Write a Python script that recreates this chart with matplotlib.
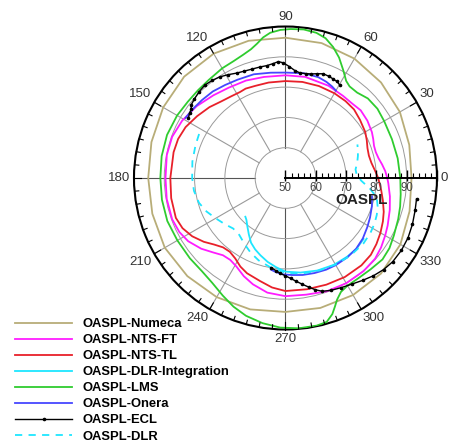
import numpy as np
import matplotlib
matplotlib.use("Agg")
import matplotlib.pyplot as plt
from matplotlib.markers import TICKUP, TICKDOWN

plt.rcParams["font.family"] = ["Liberation Sans", "DejaVu Sans"]

# ---- directivity data: angle (deg) and OASPL (dB) ----
numeca_deg = [0, 15, 30, 45, 60, 75, 90, 105, 120, 135, 150, 165, 180, 195, 210,
              225, 240, 255, 270, 285, 300, 315, 330, 345, 360]
numeca_db = [91.6, 92.3, 93.6, 94.6, 95.5, 96.1, 96.3, 96.9, 97.4, 97.3, 96.6, 95.8,
             95.3, 95.5, 96.0, 95.8, 95.4, 94.9, 94.2, 94.4, 94.6, 94.6, 93.8, 92.4, 91.6]

nts_ft_deg = [0, 4, 8, 12, 16, 20, 24, 28, 35, 42, 48, 55, 65, 79, 90, 102, 112, 122,
              131, 141, 151, 160, 169, 180, 190, 200, 207, 213, 220, 226, 231, 236, 241,
              247, 253, 261, 270, 280, 290, 300, 310, 318, 324, 330, 335, 343, 350, 357, 360]
nts_ft_db = [83.6, 83.0, 82.2, 81.4, 81.0, 81.1, 81.7, 82.3, 83.0, 83.4, 83.0, 83.1,
             83.6, 84.0, 83.9, 84.1, 84.7, 85.2, 86.2, 87.7, 89.0, 89.8, 89.9, 89.6,
             89.8, 89.8, 89.3, 88.3, 86.3, 84.2, 82.8, 82.6, 83.4, 85.2, 86.7, 88.3,
             89.0, 89.1, 89.8, 90.1, 90.1, 89.8, 89.0, 88.0, 87.2, 86.0, 85.0, 84.0, 83.6]

nts_tl_deg = [0, 5, 10, 15, 20, 25, 30, 38, 45, 52, 60, 70, 80, 90, 100, 108, 114, 118,
              124, 130, 137, 145, 153, 160, 167, 180, 190, 200, 206, 212, 218, 223, 228,
              233, 238, 243, 248, 256, 263, 270, 281, 291, 301, 311, 318, 324, 330, 336,
              341, 347, 353, 360]
nts_tl_db = [80.6, 79.6, 78.8, 78.5, 78.8, 79.6, 80.4, 81.2, 82.0, 82.2, 82.3, 82.3,
             82.2, 82.0, 82.0, 82.0, 82.3, 82.1, 82.4, 83.0, 84.3, 85.6, 87.0, 87.7,
             87.9, 88.0, 88.3, 88.5, 87.8, 86.3, 84.2, 82.2, 80.8, 80.5, 81.3, 82.8,
             83.9, 85.0, 86.4, 87.3, 87.4, 87.7, 88.1, 88.2, 87.9, 87.1, 86.2, 85.2,
             84.3, 83.0, 81.8, 80.6]

dlr_int_deg = [224, 227, 232, 237, 242, 247, 252, 258, 264, 270, 279, 289, 299, 308, 315, 322]
dlr_int_db = [68.4, 68.9, 70.4, 72.2, 74.2, 75.6, 76.8, 78.3, 79.6, 80.9, 81.6, 82.3,
              82.8, 83.0, 83.1, 82.7]

lms_deg = [0, 10, 20, 30, 37, 44, 50, 55, 58, 62, 66, 70, 74, 78, 83, 88, 92, 96, 99,
           102, 105, 109, 114, 120, 128, 135, 142, 150, 160, 170, 180, 190, 200, 210,
           220, 228, 235, 242, 248, 254, 261, 268, 275, 282, 286, 289, 291, 293, 296,
           300, 306, 313, 320, 326, 332, 340, 346, 352, 360]
lms_db = [87.9, 87.6, 87.4, 87.6, 88.0, 87.8, 86.8, 86.9, 87.8, 90.5, 93.5, 96.0, 98.0,
          99.0, 99.4, 99.2, 98.9, 98.2, 97.0, 95.3, 94.0, 93.0, 92.2, 91.8, 91.1, 90.9,
          90.9, 91.3, 91.6, 91.5, 91.3, 91.4, 91.5, 91.2, 91.2, 91.3, 92.2, 94.0, 95.8,
          97.3, 98.5, 99.4, 99.8, 99.8, 99.4, 97.5, 95.5, 93.6, 91.8, 91.0, 90.9, 91.2,
          91.8, 91.4, 90.5, 89.6, 89.0, 88.4, 87.9]

onera_up_deg = [60, 63, 67, 72, 80, 90, 98, 107, 116, 123, 130, 137, 143, 149]
onera_up_db = [83.3, 83.9, 84.5, 85.0, 85.1, 84.8, 85.1, 85.8, 86.1, 86.6, 87.3, 87.7,
               88.1, 88.5]
onera_lo_deg = [261, 263, 268, 274, 280, 287, 294, 300, 308, 315, 322, 329, 335, 342, 348]
onera_lo_db = [80.6, 81.0, 81.8, 82.1, 82.5, 82.8, 83.1, 83.2, 83.2, 83.0, 82.4, 81.5,
               80.8, 80.0, 79.2]

ecl_up_deg = [59.5, 62, 64.5, 67, 70, 73, 76, 79, 82, 85, 88, 91, 93.5, 96, 99.5, 103,
              107, 111, 115, 119, 123, 127, 131, 135, 139, 142, 144, 146, 148.5]
ecl_up_db = [85.5, 86.1, 86.3, 86.5, 86.6, 86.0, 85.4, 85.1, 85.0, 85.6, 86.8, 88.0,
             88.5, 88.0, 87.6, 87.6, 87.6, 87.8, 88.2, 89.0, 89.8, 90.3, 90.6, 90.3,
             89.8, 89.4, 88.5, 88.2, 87.6]
ecl_lo_deg = [351, 346, 340, 334, 328, 322, 317, 312, 307, 302, 297, 292, 288, 285,
              282, 279, 276, 273, 270, 267, 264, 261]
ecl_lo_db = [93.8, 94.1, 94.6, 95.0, 95.1, 94.9, 94.3, 93.4, 92.3, 91.3, 90.6, 90.0,
             89.3, 88.2, 86.8, 85.5, 84.3, 83.2, 82.3, 81.5, 80.7, 80.0]

dlr_deg = [153, 160, 170, 180, 188, 196, 203, 210, 217, 224, 231, 238, 245, 252, 260,
           270, 280, 290, 300, 310, 320, 327, 333, 338, 343, 348, 353, 358, 363, 367,
           372, 377, 381, 385]
dlr_db = [82.0, 81.6, 81.2, 80.8, 80.5, 79.7, 78.3, 76.6, 75.2, 74.0, 74.2, 75.6, 77.2,
          78.6, 79.8, 81.3, 82.0, 82.5, 83.0, 83.4, 83.6, 83.4, 83.0, 82.5, 81.8, 80.8,
          78.0, 75.0, 73.5, 73.3, 74.2, 75.0, 75.6, 76.2]

angle_ticks = list(range(0, 360, 30))
angle_labels = ["0", "30", "60", "90", "120", "150", "180", "210", "240", "270", "300", "330"]
radial_ticks = [50, 60, 70, 80, 90]

series_names = ["OASPL-Numeca", "OASPL-NTS-FT", "OASPL-NTS-TL", "OASPL-DLR-Integration",
                "OASPL-LMS", "OASPL-Onera", "OASPL-ECL", "OASPL-DLR"]

R_MIN, R_MAX = 50, 100
rad = np.deg2rad

fig = plt.figure(figsize=(4.49, 4.41), dpi=100)
ax = fig.add_axes([0.2984, 0.2528, 0.6748, 0.6871], projection="polar")
ax.set_theta_zero_location("E")
ax.set_ylim(R_MIN, R_MAX)

# circular grid and outer frame
ax.set_rgrids([60, 70, 80, 90], labels=[""] * 4)
ax.yaxis.grid(True, color="#9a9a9a", lw=0.7)
ax.xaxis.grid(False)
ax.spines["polar"].set_linewidth(1.5)
ax.spines["polar"].set_color("black")
ax.set_xticks(rad(angle_ticks))
ax.set_xticklabels([""] * len(angle_ticks))
ax.tick_params(axis="x", length=0)

# rim ticks pointing inward: long every 30 deg, short every 5 deg
for a in range(0, 360, 5):
    inner = 97.6 if a % 30 == 0 else 98.6
    ax.plot([rad(a), rad(a)], [inner, R_MAX], color="black", lw=0.8, zorder=5,
            clip_on=False)

# angle labels just outside the rim
for a, lab in zip(angle_ticks, angle_labels):
    c, s = np.cos(rad(a)), np.sin(rad(a))
    ha = "left" if c > 0.1 else ("right" if c < -0.1 else "center")
    va = "bottom" if s > 0.1 else ("top" if s < -0.1 else "center")
    ax.annotate(lab, xy=(rad(a), R_MAX), xytext=(2.4 * c, 2.6 * s),
                textcoords="offset points", ha=ha, va=va, fontsize=9.5,
                color="#333333", annotation_clip=False)

# spokes from the inner ring outward
for a in range(30, 360, 30):
    col = "#555555" if a % 90 == 0 else "#9a9a9a"
    ax.plot([rad(a), rad(a)], [60, R_MAX], color=col, lw=0.8, zorder=1)

kw = dict(lw=1.3, zorder=3)
l_numeca, = ax.plot(rad(numeca_deg), numeca_db, color="#b8ad78", **kw)
l_ft, = ax.plot(rad(nts_ft_deg), nts_ft_db, color="#ff1cff", **kw)
l_tl, = ax.plot(rad(nts_tl_deg), nts_tl_db, color="#e8202a", **kw)
l_int, = ax.plot(rad(dlr_int_deg), dlr_int_db, color="#1ee6ff", **kw)
l_lms, = ax.plot(rad(lms_deg), lms_db, color="#2fcc2f", **kw)
l_onera, = ax.plot(rad(onera_up_deg), onera_up_db, color="#4646ff", **kw)
ax.plot(rad(onera_lo_deg), onera_lo_db, color="#4646ff", **kw)
ecl_kw = dict(color="black", lw=1.0, marker="o", ms=1.6, zorder=4)
l_ecl, = ax.plot(rad(ecl_up_deg), ecl_up_db, **ecl_kw)
ax.plot(rad(ecl_lo_deg), ecl_lo_db, **ecl_kw)
l_dlr, = ax.plot(rad(dlr_deg), dlr_db, color="#1ee6ff", lw=1.3, dashes=(4, 3.5), zorder=3)

# radial scale drawn along the 0 degree direction
ax.plot([0, 0], [R_MIN, R_MAX], color="black", lw=1.4, zorder=5, clip_on=False)
major_r = np.arange(50, 101, 10)
minor_r = [r for r in np.arange(50, 101, 2) if r % 10 != 0]
ax.plot(np.zeros(len(major_r)), major_r, ls="none", marker=TICKUP, ms=6, mew=1.0,
        color="black", zorder=5, clip_on=False)
ax.plot(np.zeros(len(major_r)), major_r, ls="none", marker=TICKDOWN, ms=2.5, mew=1.0,
        color="black", zorder=5, clip_on=False)
ax.plot(np.zeros(len(minor_r)), minor_r, ls="none", marker=TICKUP, ms=3.5, mew=0.8,
        color="black", zorder=5, clip_on=False)
for r in radial_ticks:
    ax.annotate(str(r), xy=(0, r), xytext=(0, -3), textcoords="offset points",
                ha="center", va="top", fontsize=8.3, color="#444444")
ax.annotate("OASPL", xy=(0, 75.2), xytext=(0, -16), textcoords="offset points",
            ha="center", va="center", fontsize=11, fontweight="bold", color="#222222")

handles = [l_numeca, l_ft, l_tl, l_int, l_lms, l_onera, l_ecl, l_dlr]
fig.legend(handles, series_names, loc="upper left",
           bbox_to_anchor=(15 / 449, 1 - 318 / 441), frameon=False, borderpad=0,
           borderaxespad=0, handlelength=4.4, handletextpad=0.75, labelspacing=0.3,
           numpoints=1, prop={"weight": "bold", "size": 9.4})

fig.savefig("out.png", dpi=100)
